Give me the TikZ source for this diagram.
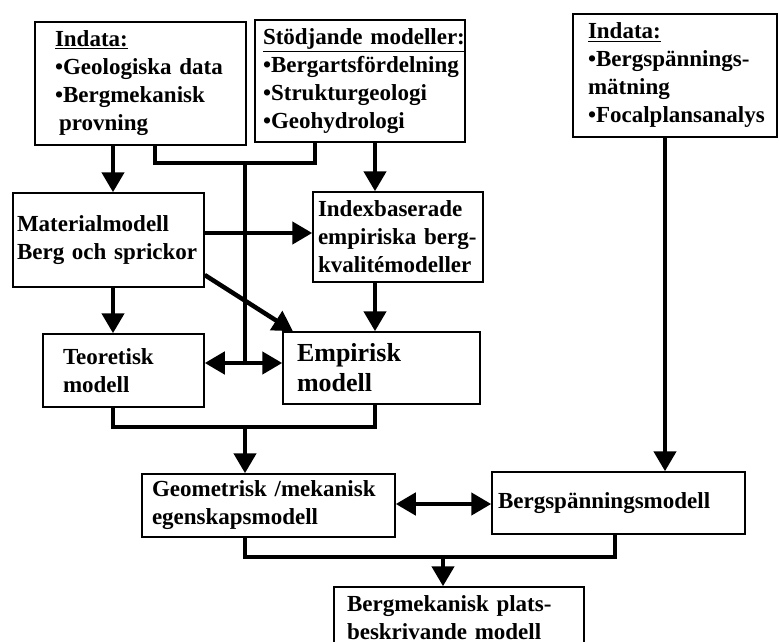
\documentclass[tikz,border=0pt]{standalone}
\usepackage{fontspec}
\setmainfont{Liberation Serif}
\usetikzlibrary{arrows.meta}

\begin{document}
\begin{tikzpicture}[x=1pt,y=-1pt]
\useasboundingbox (0,0) rectangle (779,642);
\clip (0,0) rectangle (779,642);

\begin{scope}[every node/.style={draw,line width=1.5pt,align=left,inner ysep=2pt,font=\fontsize{23}{28}\selectfont\bfseries}]
  \node[minimum height=123pt,inner xsep=20pt,text width=171pt] (A) at (140.5,83.5)
    {\underline{Indata:}\\•Geologiska~data\\•Bergmekanisk\\\hspace*{4pt}provning};
  \node[minimum height=122pt,inner xsep=8pt,text width=194pt] (B) at (360,81)
    {\underline{Stödjande~modeller:}\\•Bergartsfördelning\\•Strukturgeologi\\•Geohydrologi};
  \node[minimum height=123pt,inner xsep=15pt,text width=174pt] (C) at (675,75.5)
    {\underline{Indata:}\\•Bergspännings-\\mätning\\•Focalplansanalys};
  \node[minimum height=94pt,inner xsep=4pt,text width=183pt] (D) at (108.5,240)
    {Materialmodell\\Berg~och~sprickor\\[14pt]};
  \node[minimum height=90pt,inner xsep=5pt,text width=160pt] (E) at (398,237)
    {Indexbaserade\\empiriska~berg-\\kvalitémodeller};
  \node[minimum height=73pt,inner xsep=20pt,text width=121pt] (F) at (123.5,370.5)
    {Teoretisk\\modell};
  \node[minimum height=72pt,inner xsep=14pt,text width=169pt,font=\fontsize{26}{30}\selectfont\bfseries] (G) at (381.5,368)
    {Empirisk\\modell};
  \node[minimum height=63pt,inner xsep=10pt,text width=233pt] (H) at (268.5,505.5)
    {Geometrisk~/mekanisk\\egenskapsmodell};
  \node[minimum height=62pt,inner xsep=6pt,text width=241pt] (I) at (618.5,503)
    {Bergspänningsmodell\\[6pt]};
  \node[minimum height=62pt,inner xsep=13pt,text width=224pt] (J) at (459,618)
    {Bergmekanisk~plats-\\beskrivande~modell};
\end{scope}

% junctions
\coordinate (c1) at (113,0);
\coordinate (c2) at (375,0);
\coordinate (c3) at (665,0);
\coordinate (a1) at (155,163);
\coordinate (b1) at (315,163);
\coordinate (j1) at (245,163);
\coordinate (j2) at (245,363);
\coordinate (e1) at (0,233);
\coordinate (d1) at (0,275);
\coordinate (g1) at (293,0);
\coordinate (m1) at (113,427);
\coordinate (m2) at (375,427);
\coordinate (m3) at (245,427);
\coordinate (h1) at (0,504);
\coordinate (n1) at (245,557);
\coordinate (n2) at (615,557);
\coordinate (n3) at (443,557);

\draw [line width=4.5pt] (A.south -| a1) -- (a1) -- (b1) -- (B.south -| b1);
\draw [line width=4.5pt] (j1) -- (j2);
\draw [line width=4.5pt] (F.south -| m1) -- (m1) -- (m2) -- (G.south -| m2);
\draw [line width=4.5pt] (H.south -| n1) -- (n1) -- (n2) -- (I.south -| n2);

\begin{scope}[every edge/.style={draw=black,line width=4.5pt}]
  \path [-{Triangle[length=20pt,width=22pt]}] (A.south -| c1) edge (D.north -| c1);
  \path [-{Triangle[length=20pt,width=22pt]}] (B.south -| c2) edge (E.north -| c2);
  \path [-{Triangle[length=20pt,width=22pt]}] (D.east |- e1) edge (E.west |- e1);
  \path [-{Triangle[length=20pt,width=22pt]}] (D.east |- d1) edge (G.north -| g1);
  \path [-{Triangle[length=20pt,width=22pt]}] (D.south -| c1) edge (F.north -| c1);
  \path [-{Triangle[length=20pt,width=22pt]}] (E.south -| c2) edge (G.north -| c2);
  \path [{Triangle[length=20pt,width=22pt]}-{Triangle[length=20pt,width=22pt]}] (F.east |- j2) edge (G.west |- j2);
  \path [-{Triangle[length=20pt,width=22pt]}] (m3) edge (H.north -| m3);
  \path [{Triangle[length=20pt,width=22pt]}-{Triangle[length=20pt,width=22pt]}] (H.east |- h1) edge (I.west |- h1);
  \path [-{Triangle[length=20pt,width=22pt]}] (C.south -| c3) edge (I.north -| c3);
  \path [-{Triangle[length=20pt,width=22pt]}] (n3) edge (J.north -| n3);
\end{scope}
\end{tikzpicture}
\end{document}
